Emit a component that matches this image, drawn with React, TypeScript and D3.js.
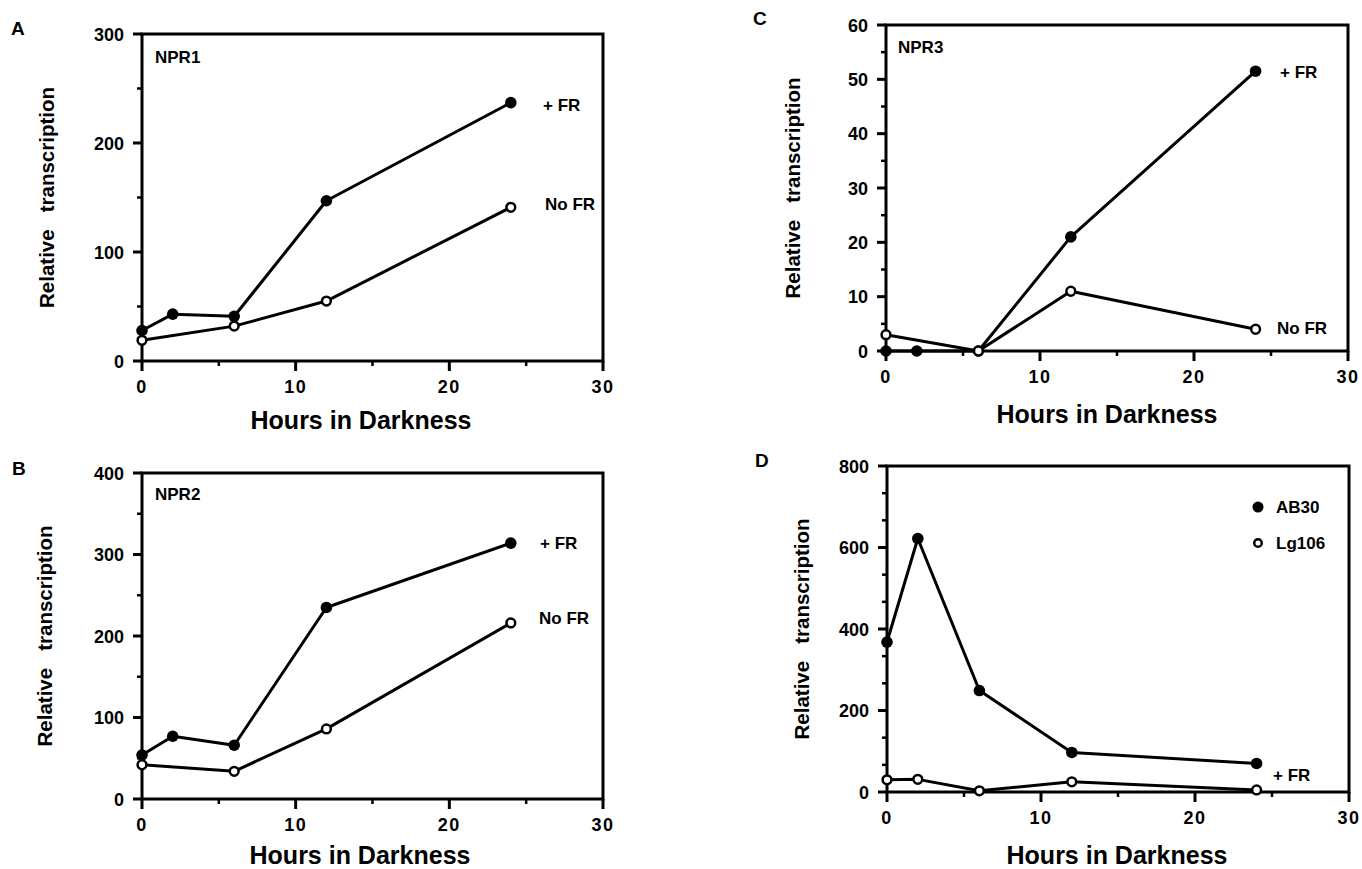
import React from 'react';
import * as d3 from 'd3';

// sampling times (hours in darkness)
const hoursAll = [0, 2, 6, 12, 24];
const hoursNoFR = [0, 6, 12, 24];

// A: NPR1
const npr1PlusFR = [28, 43, 41, 147, 237];
const npr1NoFR = [19, 32, 55, 141];
// B: NPR2
const npr2PlusFR = [54, 77, 66, 235, 314];
const npr2NoFR = [42, 34, 86, 216];
// C: NPR3
const npr3PlusFR = [0, 0, 0, 21, 51.5];
const npr3NoFR = [3, 0, 11, 4];
// D: AB30 / Lg106 (+FR)
const ab30 = [368, 622, 249, 97, 70];
const lg106 = [30, 31, 3, 25, 5];

const xTicks = [0, 10, 20, 30];
const xMinorTicks = [5, 15, 25];
const yTicksA = [0, 100, 200, 300];
const yMinorA = [50, 150, 250];
const yTicksB = [0, 100, 200, 300, 400];
const yMinorB = [50, 150, 250, 350];
const yTicksC = [0, 10, 20, 30, 40, 50, 60];
const yMinorC = [5, 15, 25, 35, 45, 55];
const yTicksD = [0, 200, 400, 600, 800];
const yMinorD = [200 / 3, 400 / 3, 800 / 3, 1000 / 3, 1400 / 3, 1600 / 3, 2000 / 3, 2200 / 3];

const FONT = '"Liberation Sans", Arial, Helvetica, sans-serif';

type Series = { hours: number[]; values: number[]; filled: boolean };
type Note = { text: string; x: number; y: number; size?: number };

type PanelProps = {
  letter: string;
  letterX: number;
  letterY: number;
  left: number;
  right: number;
  top: number;
  bottom: number;
  yMax: number;
  yTicks: number[];
  yMinor: number[];
  series: Series[];
  notes: Note[];
  yTitleX: number;
  xTitleX: number;
  xTitleY: number;
  legend?: boolean;
};

function Panel(p: PanelProps) {
  const x = d3.scaleLinear().domain([0, 30]).range([p.left, p.right]);
  const y = d3.scaleLinear().domain([0, p.yMax]).range([p.bottom, p.top]);
  const line = d3
    .line<[number, number]>()
    .x((d) => x(d[0]))
    .y((d) => y(d[1]));

  const yMid = (p.top + p.bottom) / 2;

  return (
    <g>
      <text x={p.letterX} y={p.letterY} fontSize={19} fontWeight="bold" fontFamily={FONT}>
        {p.letter}
      </text>

      {/* frame */}
      <rect
        x={p.left}
        y={p.top}
        width={p.right - p.left}
        height={p.bottom - p.top}
        fill="none"
        stroke="#000"
        strokeWidth={3}
      />

      {/* y ticks */}
      {p.yTicks.map((t) => (
        <g key={`y${t}`}>
          <line x1={p.left - 9} x2={p.left} y1={y(t)} y2={y(t)} stroke="#000" strokeWidth={3} />
          <text
            x={p.left - 18}
            y={y(t) + 6.5}
            textAnchor="end"
            fontSize={18}
            fontWeight="bold"
            fontFamily={FONT}
          >
            {t}
          </text>
        </g>
      ))}
      {p.yMinor.map((t) => (
        <line key={`ym${t}`} x1={p.left - 5} x2={p.left} y1={y(t)} y2={y(t)} stroke="#000" strokeWidth={2.5} />
      ))}

      {/* x ticks */}
      {xTicks.map((t) => (
        <g key={`x${t}`}>
          <line x1={x(t)} x2={x(t)} y1={p.bottom} y2={p.bottom + 10} stroke="#000" strokeWidth={3} />
          <text
            x={x(t)}
            y={p.bottom + 32}
            textAnchor="middle"
            fontSize={18}
            fontWeight="bold"
            letterSpacing={1.5}
            fontFamily={FONT}
          >
            {t}
          </text>
        </g>
      ))}
      {xMinorTicks.map((t) => (
        <line key={`xm${t}`} x1={x(t)} x2={x(t)} y1={p.bottom} y2={p.bottom + 5} stroke="#000" strokeWidth={2.5} />
      ))}

      {/* series */}
      {p.series.map((s, i) => {
        const pts = s.hours.map((h, j) => [h, s.values[j]] as [number, number]);
        return (
          <g key={`s${i}`}>
            <path d={line(pts) || ''} fill="none" stroke="#000" strokeWidth={3} strokeLinejoin="round" />
            {pts.map((d, j) =>
              s.filled ? (
                <circle key={j} cx={x(d[0])} cy={y(d[1])} r={5.8} fill="#000" />
              ) : (
                <circle key={j} cx={x(d[0])} cy={y(d[1])} r={4.4} fill="#fff" stroke="#000" strokeWidth={2.5} />
              ),
            )}
          </g>
        );
      })}

      {/* annotations */}
      {p.notes.map((n, i) => (
        <text key={`n${i}`} x={n.x} y={n.y} fontSize={n.size || 17} fontWeight="bold" fontFamily={FONT}>
          {n.text}
        </text>
      ))}

      {p.legend && (
        <g>
          <circle cx={1258} cy={507} r={5.5} fill="#000" />
          <circle cx={1258} cy={543} r={3.8} fill="#fff" stroke="#000" strokeWidth={2.5} />
        </g>
      )}

      {/* axis titles */}
      <text
        transform={`translate(${p.yTitleX},${yMid}) rotate(-90)`}
        textAnchor="middle"
        fontSize={20.5}
        fontWeight="bold"
        fontFamily={FONT}
        style={{ whiteSpace: 'pre' }}
      >
        {'Relative   transcription'}
      </text>
      <text
        x={p.xTitleX}
        y={p.xTitleY}
        textAnchor="middle"
        fontSize={25}
        fontWeight="bold"
        fontFamily={FONT}
      >
        Hours in Darkness
      </text>
    </g>
  );
}

export default function App() {
  return (
    <svg
      width={1362}
      height={869}
      style={{ position: 'absolute', left: 0, top: 0, background: '#fff' }}
    >
      <Panel
        letter="A"
        letterX={11}
        letterY={35}
        left={142}
        right={603}
        top={34}
        bottom={361}
        yMax={300}
        yTicks={yTicksA}
        yMinor={yMinorA}
        series={[
          { hours: hoursAll, values: npr1PlusFR, filled: true },
          { hours: hoursNoFR, values: npr1NoFR, filled: false },
        ]}
        notes={[
          { text: 'NPR1', x: 155, y: 63 },
          { text: '+ FR', x: 543, y: 111 },
          { text: 'No FR', x: 545, y: 210 },
        ]}
        yTitleX={54}
        xTitleX={361}
        xTitleY={429}
      />
      <Panel
        letter="B"
        letterX={12}
        letterY={475}
        left={142}
        right={603}
        top={473}
        bottom={799}
        yMax={400}
        yTicks={yTicksB}
        yMinor={yMinorB}
        series={[
          { hours: hoursAll, values: npr2PlusFR, filled: true },
          { hours: hoursNoFR, values: npr2NoFR, filled: false },
        ]}
        notes={[
          { text: 'NPR2', x: 155, y: 500 },
          { text: '+ FR', x: 540, y: 549 },
          { text: 'No FR', x: 539, y: 624 },
        ]}
        yTitleX={52}
        xTitleX={360}
        xTitleY={864}
      />
      <Panel
        letter="C"
        letterX={753}
        letterY={25}
        left={886}
        right={1348}
        top={25}
        bottom={351}
        yMax={60}
        yTicks={yTicksC}
        yMinor={yMinorC}
        series={[
          { hours: hoursAll, values: npr3PlusFR, filled: true },
          { hours: hoursNoFR, values: npr3NoFR, filled: false },
        ]}
        notes={[
          { text: 'NPR3', x: 898, y: 53 },
          { text: '+ FR', x: 1280, y: 78 },
          { text: 'No FR', x: 1277, y: 334 },
        ]}
        yTitleX={800}
        xTitleX={1107}
        xTitleY={423}
      />
      <Panel
        letter="D"
        letterX={755}
        letterY={467}
        left={887}
        right={1349}
        top={466}
        bottom={792}
        yMax={800}
        yTicks={yTicksD}
        yMinor={yMinorD}
        series={[
          { hours: hoursAll, values: ab30, filled: true },
          { hours: hoursAll, values: lg106, filled: false },
        ]}
        notes={[
          { text: 'AB30', x: 1276, y: 513 },
          { text: 'Lg106', x: 1276, y: 549 },
          { text: '+ FR', x: 1273, y: 781 },
        ]}
        legend
        yTitleX={809}
        xTitleX={1117}
        xTitleY={864}
      />
    </svg>
  );
}
